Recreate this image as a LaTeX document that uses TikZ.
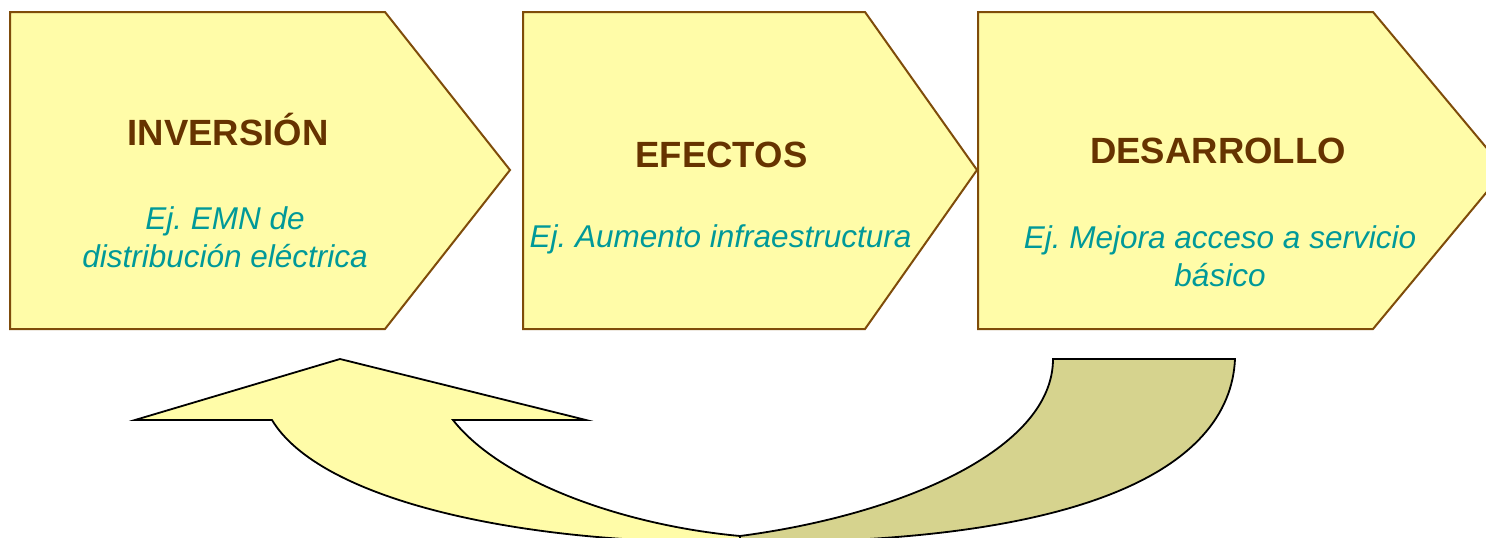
\documentclass[tikz,border=0pt]{standalone}
\usepackage{fontspec}
\setmainfont{Liberation Sans}
\frenchspacing
\definecolor{chevfill}{HTML}{FFFCA8}
\definecolor{chevline}{HTML}{7F4C0A}
\definecolor{titlebrown}{HTML}{663300}
\definecolor{subteal}{HTML}{009999}
\definecolor{backolive}{HTML}{D6D38E}
\tikzset{
  chevron/.style={fill=chevfill, draw=chevline, line width=2pt, line join=miter},
  titletext/.style={inner sep=0pt, anchor=base, text=titlebrown, font=\fontsize{36.5}{40}\selectfont\bfseries},
  subtext/.style={inner sep=0pt, anchor=base, text=subteal, align=center, font=\fontsize{31.5}{38}\selectfont\itshape},
  arrowfront/.style={fill=chevfill, draw=black, line width=1.8pt, line join=miter},
  arrowback/.style={fill=backolive, draw=black, line width=1.8pt, line join=miter}
}
\begin{document}
\begin{tikzpicture}[x=1pt, y=-1pt]
\useasboundingbox (0,0) rectangle (1486,538);
\clip (0,0) rectangle (1486,538);
% chevrons
\draw[chevron] (10,12) -- (385,12) -- (510,170) -- (385,329) -- (10,329) -- cycle;
\draw[chevron] (523,12) -- (865,12) -- (977,170) -- (865,329) -- (523,329) -- cycle;
\draw[chevron] (978,12) -- (1373,12) -- (1505,170) -- (1373,329) -- (978,329) -- cycle;
% titles
\node[titletext] (t1) at (228,145) {INVERSIÓN};
\node[titletext] (t2) at (721.5,167) {EFECTOS};
\node[titletext] (t3) at (1218,163) {DESARROLLO};
% sub texts (base = last line)
\node[subtext] (s1) at (225,267) {Ej. EMN de\\distribución eléctrica};
\node[subtext] (s2) at (720.5,247) {Ej. Aumento infraestructura};
\node[subtext] (s3) at (1220,286) {Ej. Mejora acceso a servicio\\básico};
% curved arrow: back part
\draw[arrowback] (1053,359) -- (1235,359)
  .. controls (1230,470) and (1080,545) .. (740,542)
  -- (740,536)
  .. controls (900,515) and (1053,450) .. (1053,359) -- cycle;
% curved arrow: front part with head
\draw[arrowfront] (340,359) -- (586,420) -- (453,420)
  .. controls (500,480) and (620,525) .. (740,536)
  -- (740,542)
  .. controls (520,545) and (320,500) .. (272,420)
  -- (135,420) -- cycle;
\end{tikzpicture}
\end{document}
